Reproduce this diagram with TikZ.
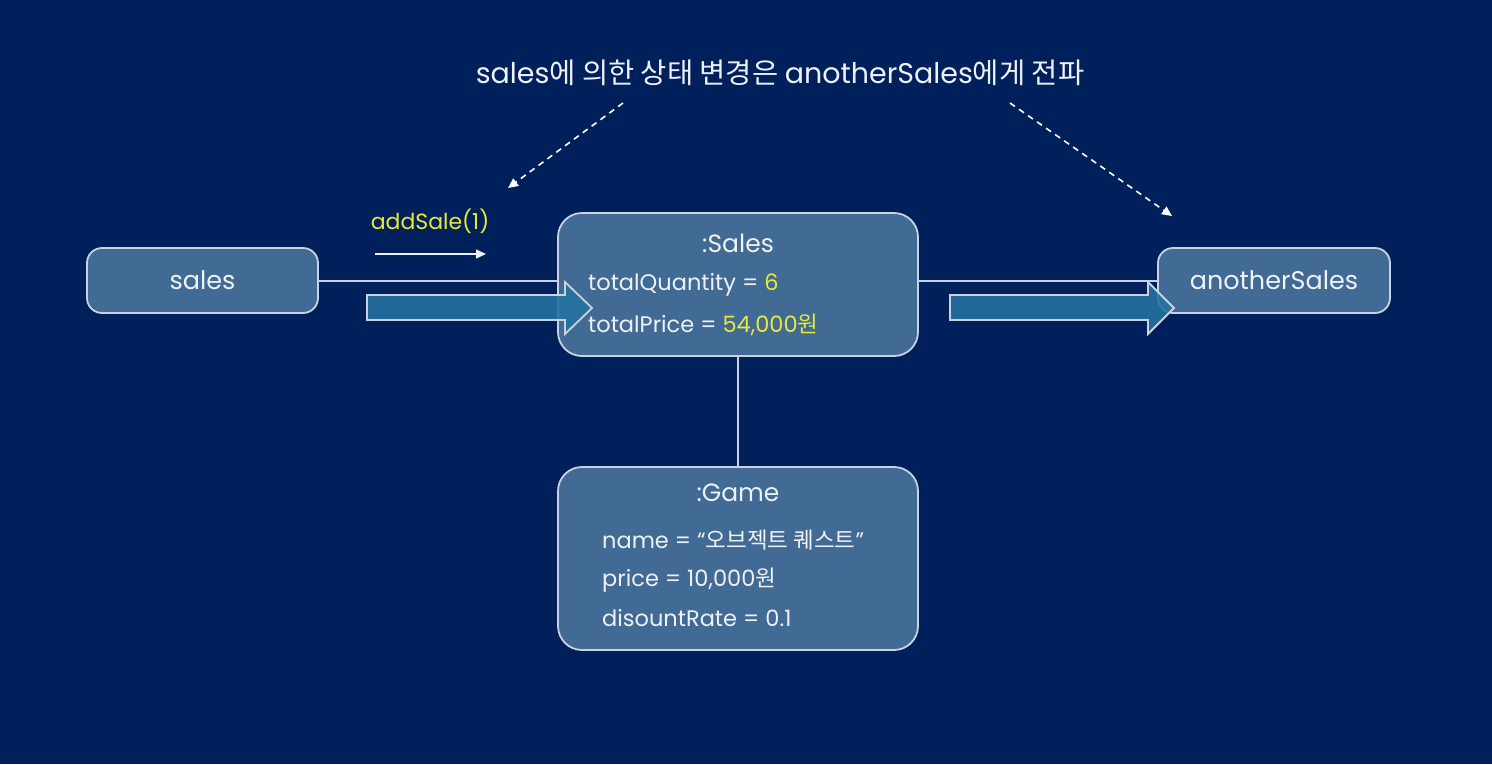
\documentclass[tikz,border=0pt]{standalone}
\usepackage{fontspec}
\setmainfont{Poppins}
\newfontfamily\kr{Noto Sans CJK KR}
\usetikzlibrary{arrows.meta}
\definecolor{bg}{HTML}{00205C}
\definecolor{boxfill}{HTML}{416A94}
\definecolor{boxline}{HTML}{C9D2DE}
\definecolor{txt}{HTML}{EEF1F5}
\definecolor{yel}{HTML}{E8E83A}
\definecolor{arrfill}{HTML}{2472A0}
\tikzset{
  objbox/.style={draw=boxline, line width=1.8pt, fill=boxfill, rounded corners=15pt, inner sep=0pt},
  bigbox/.style={objbox, rounded corners=24pt, minimum width=360pt},
  lbl/.style={text=txt, font=\fontsize{25}{29}\selectfont, inner sep=0pt},
  attr/.style={lbl, anchor=west, font=\fontsize{22.5}{26}\selectfont},
  conn/.style={draw=boxline, line width=1.6pt},
  note/.style={draw=white, line width=1.6pt, dashed, dash pattern=on 6pt off 5pt, -{Triangle[length=10pt,width=9pt]}},
  blockarrow/.style={draw=boxline, line width=1.8pt, fill=arrfill, fill opacity=0.88}
}
\begin{document}
\begin{tikzpicture}[x=1pt,y=-1pt]
\useasboundingbox (0,0) rectangle (1492,764);
\fill[bg] (0,0) rectangle (1492,764);

% connectors
\coordinate (s1) at (318,281);
\coordinate (s2) at (558,281);
\coordinate (s3) at (918,281);
\coordinate (s4) at (1158,281);
\draw[conn] (s1) -- (s2);
\draw[conn] (s3) -- (s4);
\draw[conn] (738,356) -- (738,467);

% boxes
\node[objbox, minimum width=231pt, minimum height=65pt] (sales) at (202.5,280.5) {};
\node[lbl, font=\fontsize{25.5}{29}\selectfont] at (sales.center) {sales};
\node[objbox, minimum width=232pt, minimum height=65pt] (another) at (1274,280.5) {};
\node[lbl, font=\fontsize{25.5}{29}\selectfont] at (another.center) {anotherSales};
\node[bigbox, minimum height=143pt] (salesobj) at (738,284.5) {};
\node[bigbox, minimum height=183pt] (game) at (738,558.5) {};

% Sales texts
\node[lbl] (st) at (738,243) {:Sales};
\node[attr] (tq) at (588,285) {totalQuantity = \textcolor{yel}{6}};
\node[attr] (tp) at (588,325) {totalPrice = \textcolor{yel}{54,000{\kr 원}}};

% Game texts
\node[lbl] (gt) at (738,493) {:Game};
\node[attr] (gn) at (602,540) {name = “{\kr 오브젝트 퀘스트}”};
\node[attr] (gp) at (602,580) {price = 10,000{\kr 원}};
\node[attr] (gd) at (602,618) {disountRate = 0.1};

% block arrows
\draw[blockarrow] (367,295) -- (565,295) -- (565,282) -- (592,308) -- (565,334) -- (565,320) -- (367,320) -- cycle;
\draw[blockarrow] (950,295) -- (1148,295) -- (1148,282) -- (1174,308) -- (1148,334) -- (1148,320) -- (950,320) -- cycle;

% addSale
\node[lbl, text=yel, font=\fontsize{22}{26}\selectfont] (add) at (430,221) {addSale(1)};
\coordinate (a1) at (375,254);
\coordinate (a2) at (486,254);
\draw[draw=txt, line width=1.5pt, -{Triangle[length=10pt,width=9pt]}] (a1) -- (a2);

% title
\node[lbl, font=\fontsize{28.5}{33}\selectfont] (title) at (780,73) {sales{\kr 에 의한 상태 변경은 }anotherSales{\kr 에게 전파}};
\coordinate (n1) at (623,103);
\coordinate (n2) at (508,188);
\coordinate (n3) at (1010,103);
\coordinate (n4) at (1172,216);
\draw[note] (n1) -- (n2);
\draw[note] (n3) -- (n4);
\end{tikzpicture}
\end{document}
